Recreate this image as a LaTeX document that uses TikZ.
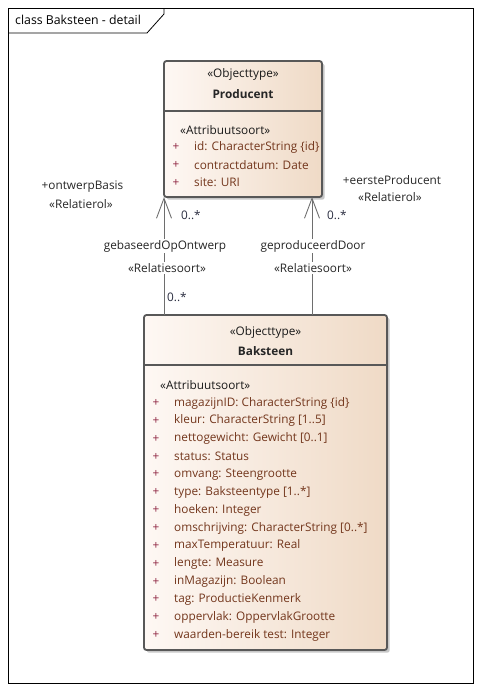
\documentclass[tikz,border=0pt]{standalone}
\usepackage{fontspec}
\setmainfont{Open Sans}
\usepackage{xcolor}
\usetikzlibrary{positioning,calc,arrows.meta}
\definecolor{boxline}{HTML}{585858}
\definecolor{boxleft}{HTML}{FEF8F4}
\definecolor{boxright}{HTML}{EFDAC6}
\definecolor{attrtext}{HTML}{73361C}
\definecolor{plustext}{HTML}{8E2340}
\definecolor{multtext}{HTML}{2A2D40}
\definecolor{linkline}{HTML}{6E6E6E}
\tikzset{class node/.style={draw=boxline,line width=1.8pt,rounded corners=2.5pt,left color=boxleft,right color=boxright,anchor=north west,outer sep=0pt,inner sep=0pt},
  shadow node/.style={fill=black!22,rounded corners=2.5pt,anchor=north west,inner sep=0pt},
  stereo/.style={font=\fontsize{11.8}{13}\selectfont,text=black!90,inner sep=0pt},
  class name/.style={font=\fontsize{11.8}{13}\selectfont\bfseries,text=black!85,inner sep=0pt},
  attr/.style={font=\fontsize{11.8}{13}\selectfont,text=attrtext,anchor=west,inner sep=0pt},
  plus/.style={font=\fontsize{11.8}{13}\selectfont,text=plustext,inner sep=0pt},
  link label/.style={font=\fontsize{11.8}{13}\selectfont,text=black!85,fill=white,inner sep=1pt},
  mult/.style={font=\fontsize{11.8}{13}\selectfont,text=multtext,anchor=west,inner sep=0pt},
  link/.style={draw=linkline,line width=0.9pt,-{Straight Barb[length=20pt,width=15pt]}}}

\begin{document}
\begin{tikzpicture}[x=1pt,y=-1pt]
      \useasboundingbox (0,0) rectangle (481,691);
      % frame and title tab
      \draw[black,line width=0.8pt] (8,8) rectangle (473,683);
      \draw[black,line width=0.8pt] (8,33) -- (147,33) -- (164,14) -- (164,8);
      \node[anchor=west,font=\fontsize{12.3}{14}\selectfont,inner sep=0pt] (title) at (15,20) {class Baksteen - detail};
      % Producent
      \node[shadow node,minimum width=158pt,minimum height=136pt] (producentshadow) at (166.5,63.5) {};
      \node[class node,minimum width=158pt,minimum height=136pt] (producent) at (164,61) {};
      \draw[boxline,line width=1.8pt] (producent.west |- 0,111) -- (producent.east |- 0,111);
      \node[stereo] (producentstereo) at (243,74) {«Objecttype»};
      \node[class name] (producentname) at (243,94) {Producent};
      \node[stereo,anchor=west] (producentattrs) at (180,130) {«Attribuutsoort»};
      \foreach \txt [count=\i from 0] in {{id: CharacterString \{id\}},{contractdatum: Date},{site: URI}}{
        \node[plus] (pplus\i) at (176,147+17.8*\i) {+};
        \node[attr] (pattr\i) at (194,147+17.8*\i) {\txt};
      }
      % Baksteen
      \node[shadow node,minimum width=243pt,minimum height=335pt] (baksteenshadow) at (146.5,317.5) {};
      \node[class node,minimum width=243pt,minimum height=335pt] (baksteen) at (144,315) {};
      \draw[boxline,line width=1.8pt] (baksteen.west |- 0,365) -- (baksteen.east |- 0,365);
      \node[stereo] (baksteenstereo) at (265.5,332) {«Objecttype»};
      \node[class name] (baksteenname) at (265.5,351) {Baksteen};
      \node[stereo,anchor=west] (baksteenattrs) at (160,385) {«Attribuutsoort»};
      \foreach \txt [count=\i from 0] in {{magazijnID: CharacterString \{id\}},{kleur: CharacterString [1..5]},{nettogewicht: Gewicht [0..1]},{status: Status},{omvang: Steengrootte},{type: Baksteentype [1..*]},{hoeken: Integer},{omschrijving: CharacterString [0..*]},{maxTemperatuur: Real},{lengte: Measure},{inMagazijn: Boolean},{tag: ProductieKenmerk},{oppervlak: OppervlakGrootte},{waarden-bereik test: Integer}}{
        \node[plus] (bplus\i) at (156,403+17.85*\i) {+};
        \node[attr] (battr\i) at (174,403+17.85*\i) {\txt};
      }
      % associations
      \coordinate (ontwerpstart) at (baksteen.north west -| 164,0);
      \coordinate (ontwerpend) at (producent.south west -| 164,0);
      \coordinate (doorstart) at (baksteen.north west -| 312,0);
      \coordinate (doorend) at (producent.south west -| 312,0);
      \draw[link] (ontwerpstart) -- (ontwerpend);
      \draw[link] (doorstart) -- (doorend);
      \node[link label] (ontwerpname) at (165,246) {gebaseerdOpOntwerp};
      \node[link label] (ontwerpstereo) at (167,268) {«Relatiesoort»};
      \node[link label] (doorname) at (313,246) {geproduceerdDoor};
      \node[link label] (doorstereo) at (313,268) {«Relatiesoort»};
      \node[mult] (ontwerpmultend) at (181,215) {0..*};
      \node[mult] (ontwerpmultstart) at (167,297) {0..*};
      \node[mult] (doormultend) at (327,215) {0..*};
      \node[link label,fill=none] (ontwerprole) at (82.5,187) {+ontwerpBasis};
      \node[link label,fill=none] (ontwerprolestereo) at (81,204) {«Relatierol»};
      \node[link label,fill=none] (doorrole) at (392,180) {+eersteProducent};
      \node[link label,fill=none] (doorrolestereo) at (390,197) {«Relatierol»};
\end{tikzpicture}
\end{document}
